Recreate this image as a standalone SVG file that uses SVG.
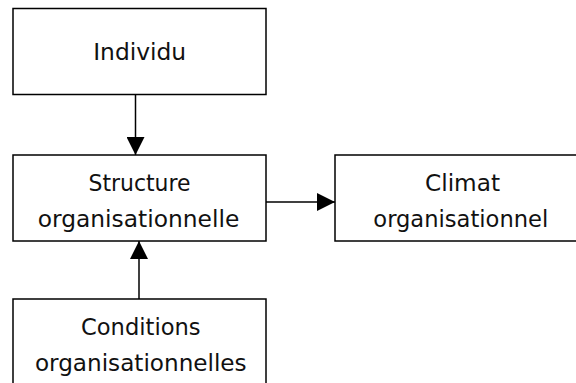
<svg xmlns="http://www.w3.org/2000/svg" width="576" height="383" viewBox="0 0 576 383">
  <style>
    .box { fill: #ffffff; stroke: #000000; stroke-width: 1.5; }
    .lbl { font-family: "DejaVu Sans", "Liberation Sans", sans-serif; font-size: 23.5px; fill: #111111; text-anchor: middle; }
    .edge { stroke: #000000; stroke-width: 1.5; fill: none; }
  </style>
  <defs>
    <marker id="arrow" viewBox="0 0 18 18" refX="18" refY="9" markerWidth="18" markerHeight="18" markerUnits="userSpaceOnUse" orient="auto">
      <path d="M0,0 L18,9 L0,18 Z" fill="#000000"/>
    </marker>
  </defs>
  <rect width="576" height="383" fill="#ffffff"/>

  <g id="individu">
    <rect class="box" x="13" y="8.5" width="253" height="86"/>
    <text class="lbl" x="139.7" y="59.5" textLength="93" lengthAdjust="spacingAndGlyphs">Individu</text>
  </g>

  <g id="structure">
    <rect class="box" x="13" y="155" width="253" height="86"/>
    <text class="lbl" x="139.5" y="191" textLength="102" lengthAdjust="spacingAndGlyphs">Structure</text>
    <text class="lbl" x="138.5" y="227" textLength="201.6" lengthAdjust="spacingAndGlyphs">organisationnelle</text>
  </g>

  <g id="climat">
    <rect class="box" x="335" y="155" width="253" height="86"/>
    <text class="lbl" x="462.5" y="191" textLength="75" lengthAdjust="spacingAndGlyphs">Climat</text>
    <text class="lbl" x="460.8" y="227" textLength="175" lengthAdjust="spacingAndGlyphs">organisationnel</text>
  </g>

  <g id="conditions">
    <rect class="box" x="13" y="299" width="253" height="100"/>
    <text class="lbl" x="140.8" y="334.5" textLength="119.7" lengthAdjust="spacingAndGlyphs">Conditions</text>
    <text class="lbl" x="140.8" y="370.5" textLength="211.7" lengthAdjust="spacingAndGlyphs">organisationnelles</text>
  </g>

  <g id="connectors">
    <line class="edge" x1="135.5" y1="94.5" x2="135.5" y2="155" marker-end="url(#arrow)"/>
    <line class="edge" x1="266" y1="202" x2="335" y2="202" marker-end="url(#arrow)"/>
    <line class="edge" x1="139" y1="299" x2="139" y2="241" marker-end="url(#arrow)"/>
  </g>
</svg>
